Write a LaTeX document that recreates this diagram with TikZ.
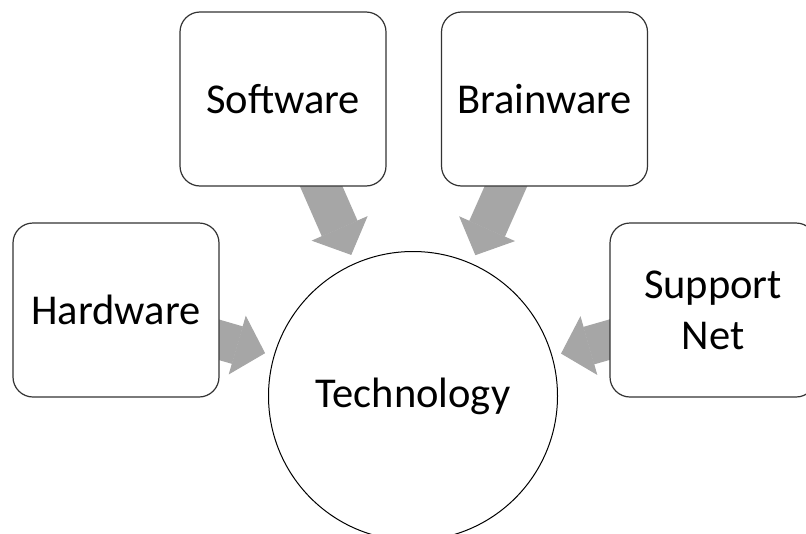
\documentclass[tikz,border=0pt]{standalone}
\usepackage{fontspec}
\setmainfont{Carlito}
\usetikzlibrary{arrows.meta,backgrounds}
\definecolor{feedgray}{HTML}{A6A6A6}
\tikzset{
  part/.style={draw=black!80, line width=1.2pt, fill=white, rounded corners=20pt,
    minimum width=206pt, minimum height=174pt, inner sep=0pt, align=center,
    font=\fontsize{42.5}{51}\selectfont},
  hub/.style={circle, draw, line width=1pt, fill=white, minimum size=289pt,
    inner sep=0pt, font=\fontsize{42.5}{51}\selectfont},
  feed/.style={feedgray, line width=39pt, shorten <=-12pt, shorten >=9pt,
    -{Triangle[length=29pt,width=61pt,line width=1pt]}}
}
\begin{document}
\begin{tikzpicture}[x=1pt,y=-1pt]
  \useasboundingbox (0,0) rectangle (806,533);

  %draw center
  \node[hub] (tech) at (413,396) {Technology};

  %draw boxes
  \node[part] (sw) at (283,99) {Software};
  \node[part] (bw) at (544.5,99) {Brainware};
  \node[part] (hw) at (116,310) {Hardware};
  \node[part] (sn) at (713,310) {Support\\Net};

  %draw arrows
  \begin{scope}[on background layer]
    \foreach \src in {sw,bw,hw,sn}
      \draw[feed] (\src) -- (tech);
  \end{scope}
\end{tikzpicture}
\end{document}
